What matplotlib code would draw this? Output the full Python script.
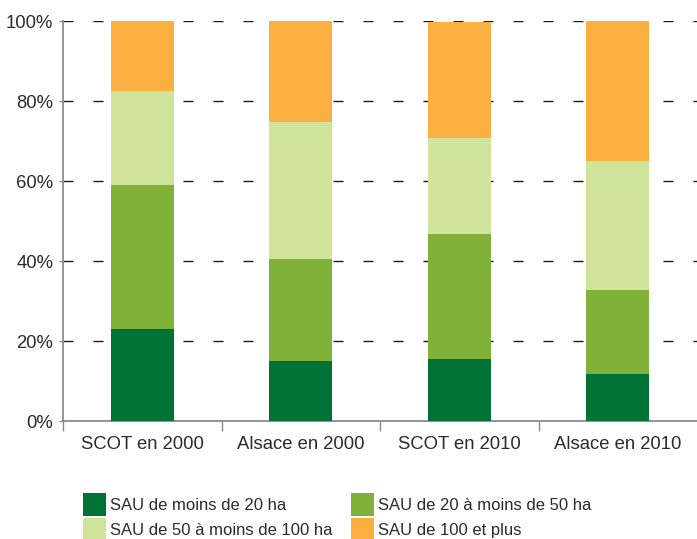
import matplotlib
matplotlib.use('Agg')
import matplotlib.pyplot as plt
from matplotlib.patches import Patch
import numpy as np

plt.rcParams['font.family'] = ['Liberation Sans', 'DejaVu Sans']

categories = ['SCOT en 2000', 'Alsace en 2000', 'SCOT en 2010', 'Alsace en 2010']
series_names = ['SAU de moins de 20 ha', 'SAU de 20 à moins de 50 ha',
                'SAU de 50 à moins de 100 ha', 'SAU de 100 et plus']
# shares in % for each size class
moins_20 = [23.0, 15.0, 15.5, 11.75]
de_20_50 = [36.0, 25.5, 31.25, 21.0]
de_50_100 = [23.5, 34.25, 24.0, 32.25]
plus_100 = [17.5, 25.25, 28.95, 35.0]
colors = ['#007236', '#80b23a', '#d0e39b', '#fbb041']

text_col = '#2b2b2b'
spine_col = '#8a8a8a'
fs = 13.3

fig = plt.figure(figsize=(6.97, 5.39), dpi=100)
ax = fig.add_axes([63 / 697, 1 - 421 / 539, 634 / 697, 400 / 539])

x = np.arange(len(categories))
bottom = np.zeros(len(categories))
for vals, col, name in zip([moins_20, de_20_50, de_50_100, plus_100], colors, series_names):
    ax.bar(x, vals, width=0.40, bottom=bottom, color=col, label=name, zorder=3)
    bottom += np.array(vals)

ax.set_xlim(-0.5, len(categories) - 0.5)
ax.set_ylim(0, 100)

# dashed grid lines
for yv in [20, 40, 60, 80, 100]:
    ax.axhline(yv, color='#1a1a1a', lw=1.0, dashes=(7.2, 14.4), zorder=1)

ax.set_yticks([0, 20, 40, 60, 80, 100])
ax.set_yticklabels(['0%', '20%', '40%', '60%', '80%', '100%'])
ax.tick_params(axis='y', length=3, width=1, color=spine_col, pad=4,
               labelsize=fs, labelcolor=text_col)

ax.set_xticks(x)
ax.set_xticklabels(categories)
ax.set_xticks(np.arange(len(categories)) - 0.5, minor=True)
ax.tick_params(axis='x', which='major', length=0, pad=11,
               labelsize=fs, labelcolor=text_col)
ax.tick_params(axis='x', which='minor', length=7, width=1, color=spine_col)

for side in ['top', 'right']:
    ax.spines[side].set_visible(False)
for side in ['left', 'bottom']:
    ax.spines[side].set_color(spine_col)
    ax.spines[side].set_linewidth(1.3)

handles = [Patch(facecolor=c, edgecolor='none') for c in colors]
order = [0, 2, 1, 3]
fig.legend([handles[i] for i in order], [series_names[i] for i in order],
           ncol=2, loc='upper left', bbox_to_anchor=(83 / 697, 1 - 493 / 539),
           frameon=False, fontsize=12, handlelength=1.38, handleheight=1.75,
           handletextpad=0.25, labelspacing=0.12, columnspacing=1.08,
           borderpad=0, borderaxespad=0, labelcolor=text_col)

fig.savefig('out.png', dpi=100)
